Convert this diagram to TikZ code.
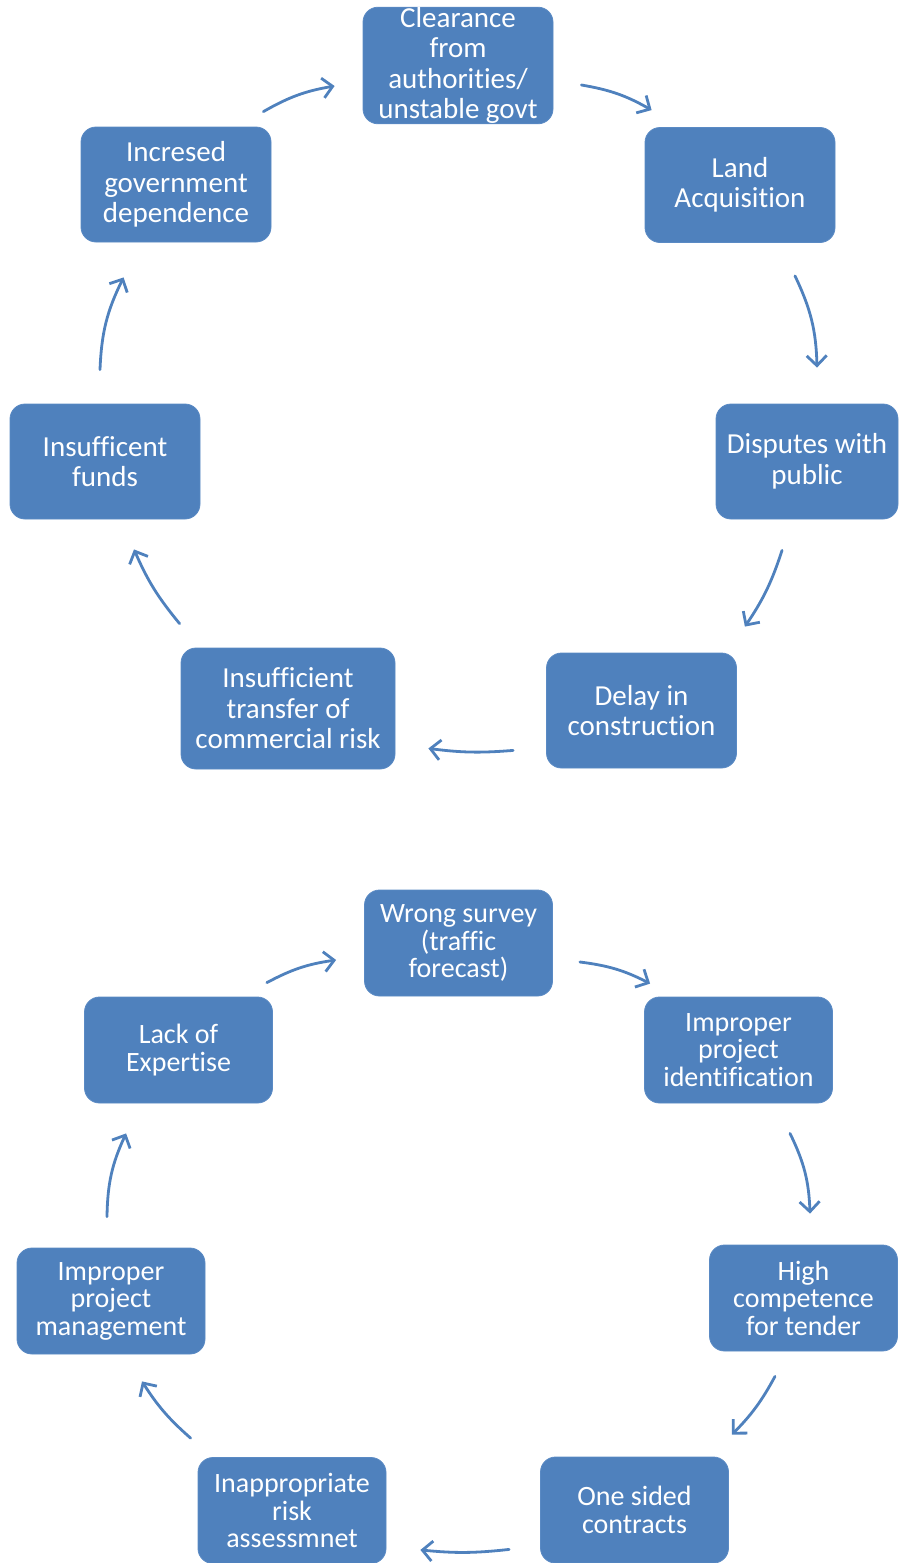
\documentclass[tikz,border=0pt]{standalone}
\usepackage{fontspec}
\setmainfont{Carlito}[RawFeature={-liga;-clig;-calt;-dlig}]
\usetikzlibrary{arrows.meta}
\definecolor{boxblue}{HTML}{4F81BD}
\definecolor{boxedge}{HTML}{5A8AC4}
\definecolor{arrowblue}{HTML}{4F81BD}

\tikzset{
  box/.style={rounded corners=7.5pt, fill=boxblue, draw=boxedge, line width=0.4pt,
    text=white, align=center, inner sep=0pt},
  topbox/.style={box, minimum width=95pt, minimum height=57.5pt,
    font=\fontsize{14.5}{15.25}\selectfont},
  lowbox/.style={box, minimum width=94pt, minimum height=53pt,
    font=\fontsize{14}{13.75}\selectfont},
  cyc/.style={draw=arrowblue, line width=1.4pt, line cap=round,
    -{Straight Barb[length=5pt,width=10pt,line width=1.4pt]}}
}

\begin{document}
\begin{tikzpicture}[x=0.5pt,y=-0.5pt]
 \useasboundingbox (0,0) rectangle (899,1563);

 % upper cycle
 \node[topbox] (T0) at (458,65.5)  {Clearance\\from\\authorities/\\unstable govt};
 \node[topbox] (T1) at (740,185)   {Land\\Acquisition};
 \node[topbox, minimum width=91pt] (T2) at (807,461.5) {Disputes with\\public};
 \node[topbox] (T3) at (641.5,710.5) {Delay in\\construction};
 \node[topbox, minimum width=107pt, minimum height=60.5pt] (T4) at (288,708.5) {Insufficient\\transfer of\\commercial risk};
 \node[topbox] (T5) at (105,461.5) {Insufficent\\funds};
 \node[topbox] (T6) at (176,184.5) {Incresed\\government\\dependence};

 \draw[cyc] ([shift={(-8,-15)}]T6.north east) to[bend left=10] ([shift={(-28,20.5)}]T0.west);
 \draw[cyc] ([shift={(28,19.5)}]T0.east) to[bend left=10] ([shift={(7,-17)}]T1.north west);
 \draw[cyc] ([shift={(55,33)}]T1.south) to[bend left=12] ([shift={(10,-36)}]T2.north);
 \draw[cyc] ([shift={(-25,31)}]T2.south) to[bend left=8] ([shift={(8,-26)}]T3.north east);
 \draw[cyc] ([shift={(-33,-18)}]T3.south west) to[bend left=6] ([shift={(33,-21)}]T4.south east);
 \draw[cyc] ([shift={(-1,-24)}]T4.north west) to[bend left=8] ([shift={(29,30)}]T5.south);
 \draw[cyc] ([shift={(-5,-34)}]T5.north) to[bend left=12] ([shift={(43,35)}]T6.south west);

 % lower cycle
 \node[lowbox] (B0) at (458.5,943)  {Wrong survey\\(traffic\\forecast)};
 \node[lowbox] (B1) at (738.5,1050) {Improper\\project\\identification};
 \node[lowbox] (B2) at (803.5,1298) {High\\competence\\for tender};
 \node[lowbox] (B3) at (634.5,1510) {One sided\\contracts};
 \node[lowbox] (B4) at (292,1510.5) {Inappropriate\\risk\\assessmnet};
 \node[lowbox] (B5) at (111,1301)   {Improper\\project\\management};
 \node[lowbox] (B6) at (178.5,1050) {Lack of\\Expertise};

 \draw[cyc] ([shift={(-6,-14)}]B6.north east) to[bend left=10] ([shift={(-28,17)}]B0.west);
 \draw[cyc] ([shift={(27,19)}]B0.east) to[bend left=10] ([shift={(6,-13)}]B1.north west);
 \draw[cyc] ([shift={(51.5,30)}]B1.south) to[bend left=12] ([shift={(6.5,-31)}]B2.north);
 \draw[cyc] ([shift={(-28.5,25)}]B2.south) to[bend left=8] ([shift={(3,-22)}]B3.north east);
 \draw[cyc] ([shift={(-31,-14)}]B3.south west) to[bend left=6] ([shift={(34,-14)}]B4.south east);
 \draw[cyc] ([shift={(-7,-19)}]B4.north west) to[bend left=8] ([shift={(31,27)}]B5.south);
 \draw[cyc] ([shift={(-4,-31)}]B5.north) to[bend left=12] ([shift={(42,30)}]B6.south west);
\end{tikzpicture}
\end{document}
